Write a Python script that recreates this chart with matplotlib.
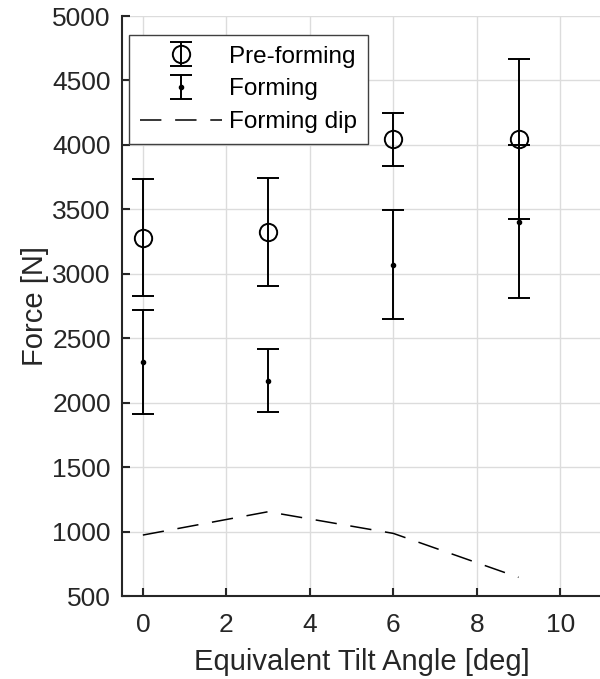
import numpy as np
import matplotlib
matplotlib.use("Agg")
import matplotlib.pyplot as plt

plt.rcParams['font.family'] = ['Liberation Sans', 'DejaVu Sans']

# tilt angles and measured forces
angle = [0, 3, 6, 9]
pre_force = [3280, 3327, 4043, 4046]
pre_err = [455, 418, 205, 620]
form_force = [2313, 2172, 3071, 3404]
form_err = [403, 246, 424, 594]
dip_force = [973, 1154, 986, 645]

xticks = [0, 2, 4, 6, 8, 10]
yticks = np.arange(500, 5001, 500)

txt = '#262626'

fig = plt.figure(figsize=(6, 6.79), dpi=100)
ax = fig.add_axes([0.2033, 0.1222, 0.8, 0.8542])

h1 = ax.errorbar(angle, pre_force, yerr=pre_err, fmt='o', color='black', mfc='none',
                 ms=12.5, mew=1.4, elinewidth=1.4, capsize=8, capthick=1.4,
                 label='Pre-forming', zorder=3)
h2 = ax.errorbar(angle, form_force, yerr=form_err, fmt='.', color='black',
                 ms=6, elinewidth=1.4, capsize=8, capthick=1.4,
                 label='Forming', zorder=3)
h3, = ax.plot(angle, dip_force, color='black', lw=1.1, dashes=(14, 9),
              label='Forming dip', zorder=3)

ax.set_xlim(-0.5, 11)
ax.set_ylim(500, 5000)
ax.set_xticks(xticks)
ax.set_yticks(yticks)
ax.grid(True, color='#dcdcdc', lw=1)
ax.set_axisbelow(True)

for s in ['top', 'right']:
    ax.spines[s].set_visible(False)
for s in ['left', 'bottom']:
    ax.spines[s].set_color(txt)
    ax.spines[s].set_linewidth(1.5)
ax.tick_params(direction='in', length=6, width=1.5, colors=txt, labelsize=19)
ax.tick_params(axis='x', pad=12)
ax.tick_params(axis='y', pad=8)

ax.set_xlabel('Equivalent Tilt Angle [deg]', fontsize=21, color=txt, labelpad=8)
ax.set_ylabel('Force [N]', fontsize=21, color=txt, labelpad=2)

leg = ax.legend([h1, h2, h3], ['Pre-forming', 'Forming', 'Forming dip'],
                loc='upper left', bbox_to_anchor=(0.015, 0.968), fontsize=17.5,
                handlelength=3.35, handletextpad=0.3, borderpad=0.45,
                labelspacing=0.45, borderaxespad=0, fancybox=False,
                framealpha=1, edgecolor='#404040')
leg.get_frame().set_linewidth(1.0)
for t in leg.get_texts():
    t.set_color('black')

fig.savefig('out.png', dpi=100)
